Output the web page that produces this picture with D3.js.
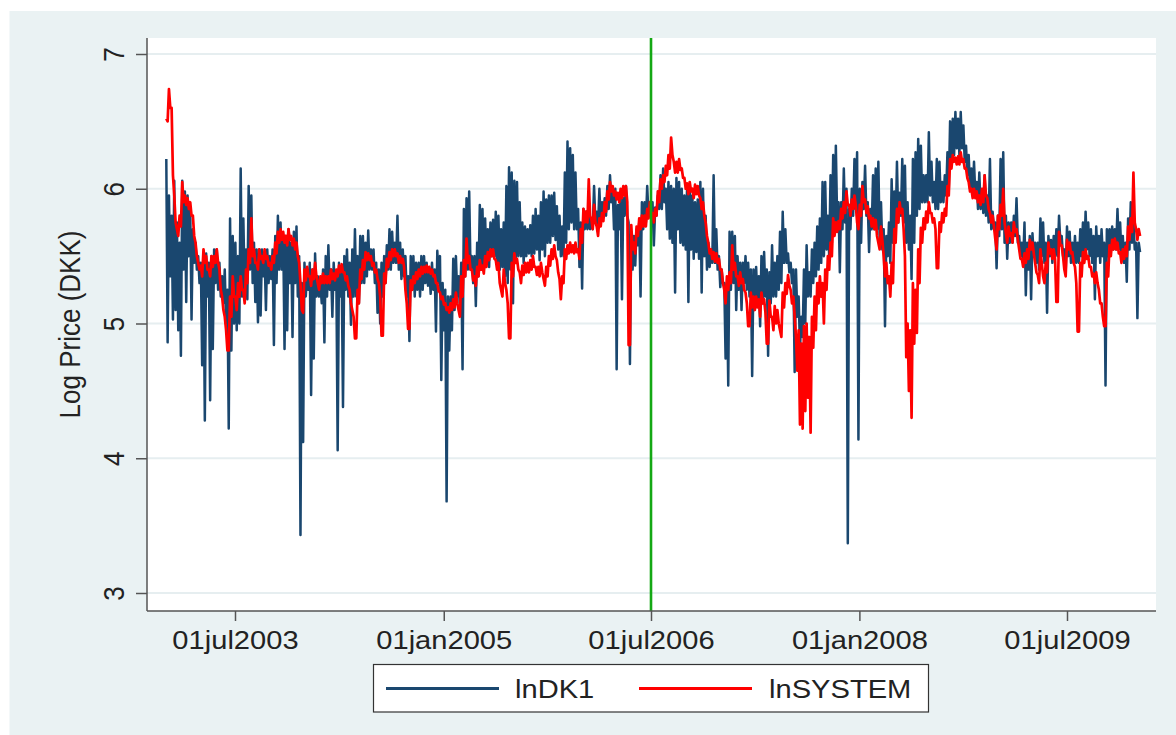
<!DOCTYPE html>
<html>
<head>
<meta charset="utf-8">
<script src="https://cdn.jsdelivr.net/npm/d3@7"></script>
<style>
  html, body { margin: 0; padding: 0; background: #ffffff; }
  svg { display: block; font-family: "Liberation Sans", Arial, sans-serif; }
</style>
</head>
<body>
<svg id="chart" width="1176" height="735"></svg>
<script>
// Weekly observations starting 1 Jan 2003 (one high and one low per week).
const seriesStart = "2003-01-01";
const stepDays = 7;

// lnDK1: weekly high and low of the daily log price.
const dk1High = [
  6.22,5.95,5.8,6.06,5.75,5.6,6.06,5.98,5.95,5.85,
  5.7,5.6,5.5,5.45,5.5,5.52,5.45,5.5,5.55,5.55,
  5.45,5.35,5.4,5.25,5.78,5.65,5.6,5.5,6.15,5.78,
  5.55,6.02,5.95,5.6,5.55,5.55,5.55,5.5,5.55,5.5,
  5.55,5.65,5.8,5.75,5.65,5.65,5.7,5.6,5.68,5.72,
  5.5,5.3,5.45,5.4,5.45,5.4,5.52,5.35,5.3,5.4,
  5.5,5.58,5.4,5.45,5.35,5.45,5.4,5.5,5.55,5.45,
  5.55,5.7,5.5,5.65,5.65,5.6,5.69,5.55,5.55,5.45,
  5.4,5.45,5.5,5.58,5.7,5.68,5.6,5.8,5.6,5.55,
  5.5,5.35,5.5,5.5,5.45,5.45,5.5,5.5,5.45,5.4,
  5.45,5.4,5.54,5.5,5.3,5.25,5.2,5.2,5.48,5.5,
  5.35,5.45,5.85,5.93,5.98,5.5,5.5,5.6,5.88,5.85,
  5.78,5.7,5.75,5.77,5.83,5.8,5.7,5.75,6.02,6.16,
  6.12,6.06,6.05,5.9,5.75,5.72,5.7,5.73,5.8,5.85,
  5.8,5.9,5.98,5.92,5.95,5.95,5.97,5.87,5.8,5.72,
  6.12,6.35,6.3,6.25,6.12,5.85,5.75,5.85,5.83,5.8,
  5.78,6.02,5.83,6.0,5.9,5.93,6.02,6.1,6.0,6.0,
  5.88,5.95,5.93,6.02,5.75,5.68,5.65,5.7,5.75,5.9,
  5.9,6.02,5.9,5.9,5.86,5.95,6.1,6.15,6.0,6.05,
  6.02,6.0,6.08,6.05,6.0,5.95,6.0,6.03,5.95,5.9,
  5.92,6.05,6.0,5.8,5.6,5.55,6.1,5.7,5.5,5.4,
  5.3,5.3,5.68,5.68,5.65,5.5,5.45,5.45,5.5,5.45,
  5.4,5.4,5.42,5.35,5.5,5.53,5.4,5.38,5.58,5.45,
  5.5,5.68,5.83,5.7,5.52,5.45,5.4,5.4,5.2,5.05,
  5.4,5.58,5.38,5.55,5.6,5.72,5.78,6.05,6.05,5.8,
  6.1,6.25,6.32,5.9,5.9,6.15,6.0,5.85,6.0,6.22,
  6.27,6.0,6.05,6.17,5.9,5.85,6.1,6.15,6.2,5.9,
  5.7,5.65,5.75,6.07,5.98,6.2,5.97,6.22,6.17,5.9,
  5.8,6.22,6.27,6.37,6.32,6.1,6.1,6.42,6.2,6.05,
  6.22,6.2,6.05,6.1,6.27,6.5,6.52,6.57,6.52,6.57,
  6.47,6.32,6.25,6.15,6.2,6.05,6.12,5.97,6.1,5.95,
  6.22,5.83,5.75,5.8,6.22,6.27,5.8,5.75,5.75,5.8,
  5.93,5.65,5.6,5.75,5.6,5.65,5.67,5.6,5.6,5.78,
  5.75,5.6,5.65,5.62,5.65,5.7,5.8,5.65,5.55,5.72,
  5.68,5.6,5.65,5.6,5.7,5.75,5.83,5.75,5.7,5.65,
  5.72,5.65,5.7,5.6,5.7,5.7,5.72,5.7,5.85,5.75,
  5.65,5.6,5.78,5.9,5.75,5.6,5.6
];
const dk1Low = [
  4.86,5.35,5.03,5.1,4.95,4.76,5.4,5.16,5.5,5.03,
  5.45,5.4,5.3,4.69,4.28,5.2,4.43,4.81,5.3,5.25,
  5.2,5.15,5.0,4.22,4.8,5.0,4.95,5.0,5.2,5.25,
  5.18,5.4,5.3,5.16,5.01,5.06,5.35,5.1,5.3,5.33,
  4.84,5.3,5.4,5.4,4.81,4.95,5.3,4.9,5.3,5.2,
  3.43,4.12,5.2,5.25,4.47,4.74,5.2,5.2,5.15,4.86,
  5.2,5.25,5.05,5.25,4.06,5.2,4.38,5.25,5.2,4.99,
  5.2,5.2,5.15,5.3,5.3,5.35,5.4,5.4,5.3,5.08,
  5.0,5.2,5.3,5.4,5.4,5.45,5.45,5.4,5.33,5.35,
  5.2,4.87,5.25,5.2,5.25,5.2,5.25,5.3,5.28,5.22,
  5.25,4.94,5.3,4.58,4.95,3.68,4.8,4.95,5.1,5.2,
  5.1,4.66,5.35,5.4,5.4,5.3,5.13,5.35,5.4,5.4,
  5.45,5.42,5.5,5.5,5.45,5.4,5.42,5.35,5.3,5.4,
  5.15,5.45,5.5,5.5,5.45,5.5,5.52,5.5,5.52,5.55,
  5.47,5.55,5.5,5.6,5.6,5.65,5.62,5.55,5.5,5.5,
  5.6,5.7,5.75,5.7,5.7,5.42,5.26,5.7,5.7,5.7,
  5.7,5.75,5.72,5.75,5.8,5.8,5.85,5.9,5.7,4.66,
  5.7,5.18,5.8,5.8,4.7,5.4,5.43,5.58,5.2,5.7,
  5.75,5.8,5.78,5.58,5.8,5.85,5.85,5.9,5.7,5.63,
  5.6,5.23,5.7,5.6,5.58,5.55,5.16,5.55,5.48,5.53,
  5.48,5.23,5.5,5.4,5.42,5.45,5.45,5.4,5.27,5.3,
  4.74,4.54,5.25,5.3,5.1,5.25,5.1,5.3,5.25,5.2,
  4.61,5.2,5.15,4.98,5.15,5.2,4.76,5.15,5.2,5.2,
  5.25,5.3,5.45,5.45,5.38,5.3,4.64,5.05,4.81,4.9,
  5.0,5.2,5.2,5.3,5.35,5.4,5.45,5.5,5.55,5.5,
  5.6,5.7,5.75,5.38,5.7,5.75,3.37,5.7,5.8,5.85,
  4.14,5.6,5.85,5.8,5.53,5.7,5.7,5.7,5.6,5.55,
  4.98,5.5,5.45,5.6,5.7,5.75,5.8,5.75,5.6,5.55,
  5.33,5.6,5.8,5.85,5.9,5.9,5.9,5.95,5.9,5.85,
  5.85,5.9,5.9,5.95,6.0,6.2,6.25,6.3,6.25,6.3,
  6.2,6.1,6.0,5.95,5.95,5.85,5.85,5.82,5.8,5.75,
  5.7,5.7,5.41,5.65,5.7,5.6,5.48,5.6,5.6,5.65,
  5.6,5.5,5.45,5.21,5.4,5.18,5.5,5.45,5.4,5.5,
  5.45,5.08,5.5,5.45,5.5,5.5,5.6,5.5,5.38,5.5,
  5.45,5.45,5.45,5.45,5.5,5.5,5.55,5.5,5.45,5.18,
  5.5,5.45,5.5,4.54,5.5,5.55,5.55,5.55,5.55,5.5,
  5.45,5.31,5.55,5.6,5.55,5.04,5.53
];

// lnSYSTEM: weekly high and low of the daily log system price.
const systemHigh = [
  6.52,6.74,6.6,5.95,5.7,5.8,6.05,5.95,5.93,5.9,
  5.8,5.6,5.45,5.43,5.55,5.5,5.4,5.5,5.5,5.55,
  5.4,5.2,5.05,4.8,5.2,5.35,5.2,5.3,5.35,5.25,
  5.4,5.55,5.78,5.55,5.45,5.55,5.5,5.55,5.5,5.45,
  5.5,5.6,5.68,5.7,5.68,5.65,5.7,5.65,5.63,5.6,
  5.45,5.1,5.4,5.42,5.35,5.4,5.45,5.3,5.35,5.37,
  5.35,5.35,5.4,5.37,5.4,5.43,5.44,5.38,5.35,5.25,
  5.1,4.89,5.25,5.4,5.47,5.53,5.52,5.5,5.45,5.4,
  5.3,4.91,5.37,5.48,5.53,5.55,5.55,5.52,5.5,5.48,
  5.25,4.96,5.32,5.35,5.38,5.4,5.42,5.42,5.43,5.42,
  5.4,5.36,5.3,5.23,5.2,5.15,5.12,5.15,5.18,5.23,
  5.1,5.35,5.47,5.63,5.5,5.4,5.35,5.42,5.47,5.43,
  5.5,5.53,5.55,5.55,5.47,5.45,5.25,5.4,5.25,4.89,
  5.45,5.52,5.48,5.38,5.43,5.45,5.45,5.47,5.5,5.42,
  5.42,5.45,5.33,5.42,5.5,5.55,5.58,5.47,5.33,5.35,
  5.55,5.58,5.6,5.58,5.6,5.55,5.7,5.85,5.83,6.07,
  5.77,5.88,5.72,5.78,5.82,5.9,5.98,6.05,6.02,5.98,
  5.97,6.0,6.02,6.02,4.84,5.73,5.6,5.72,5.78,5.8,
  5.8,5.85,5.9,5.82,5.85,5.98,6.07,6.1,6.17,6.25,
  6.38,6.2,6.2,6.22,6.15,6.08,6.04,6.05,6.0,6.03,
  6.02,5.93,5.9,5.75,5.6,5.55,5.53,5.52,5.48,5.4,
  5.25,5.35,5.38,5.58,5.45,5.35,5.38,5.33,5.23,4.98,
  5.23,5.2,5.2,5.18,5.23,5.18,4.85,5.17,5.05,5.13,
  5.1,4.95,5.23,5.3,5.36,5.25,5.2,4.9,4.95,4.85,
  4.98,5.0,4.9,5.05,5.2,5.3,5.35,5.3,5.4,5.5,
  5.6,5.78,5.75,5.76,5.85,5.9,5.98,5.88,5.92,5.95,
  5.75,5.88,6.02,5.92,5.87,5.8,5.78,5.77,5.6,5.72,
  5.5,5.45,5.35,5.45,5.7,5.85,5.9,5.85,5.5,5.0,
  4.95,5.3,5.25,5.55,5.71,5.78,5.83,5.9,5.82,5.78,
  5.41,5.75,5.82,5.85,6.02,6.22,6.25,6.23,6.24,6.27,
  6.22,6.15,6.05,6.0,6.0,5.98,5.95,6.0,6.1,5.93,
  5.82,5.8,5.63,5.8,5.88,6.0,5.67,5.72,5.67,5.75,
  5.7,5.55,5.48,5.52,5.55,5.62,5.6,5.45,5.36,5.55,
  5.35,5.45,5.6,5.55,5.55,5.16,5.68,5.58,5.4,5.62,
  5.6,5.53,5.42,4.94,5.45,5.53,5.55,5.5,5.42,5.37,
  5.38,5.25,5.15,4.98,5.45,5.58,5.62,5.63,5.6,5.53,
  5.55,5.57,5.72,5.78,6.12,5.7,5.7
];
const systemLow = [
  6.5,6.6,6.1,5.75,5.65,5.72,5.9,5.88,5.85,5.8,
  5.65,5.5,5.4,5.35,5.45,5.4,5.35,5.42,5.45,5.45,
  5.25,5.1,4.95,4.8,5.05,5.2,5.1,5.2,5.25,5.15,
  5.3,5.45,5.5,5.45,5.4,5.48,5.45,5.48,5.43,5.4,
  5.45,5.52,5.6,5.62,5.6,5.58,5.62,5.58,5.55,5.5,
  5.3,5.08,5.32,5.35,5.28,5.33,5.35,5.25,5.3,5.3,
  5.3,5.3,5.33,5.32,5.35,5.38,5.38,5.32,5.28,5.15,
  5.05,4.89,5.15,5.33,5.4,5.47,5.47,5.43,5.38,5.33,
  5.2,4.91,5.3,5.42,5.47,5.5,5.5,5.45,5.45,5.42,
  5.15,4.96,5.25,5.3,5.33,5.35,5.37,5.38,5.38,5.37,
  5.35,5.3,5.24,5.18,5.14,5.1,5.08,5.1,5.12,5.15,
  5.05,5.2,5.35,5.45,5.4,5.32,5.28,5.35,5.4,5.37,
  5.42,5.47,5.5,5.48,5.4,5.3,5.2,5.3,5.15,4.89,
  5.35,5.45,5.4,5.3,5.36,5.38,5.38,5.4,5.42,5.36,
  5.35,5.38,5.28,5.35,5.43,5.48,5.5,5.38,5.18,5.3,
  5.48,5.52,5.53,5.52,5.53,5.48,5.6,5.75,5.75,5.8,
  5.7,5.75,5.65,5.72,5.76,5.83,5.92,5.98,5.95,5.92,
  5.9,5.93,5.95,5.9,4.84,5.55,5.52,5.65,5.7,5.72,
  5.72,5.78,5.82,5.75,5.8,5.9,6.0,6.05,6.1,6.15,
  6.25,6.12,6.12,6.14,6.08,6.0,5.96,5.98,5.93,5.96,
  5.95,5.85,5.8,5.65,5.52,5.48,5.46,5.45,5.4,5.3,
  5.15,5.25,5.3,5.4,5.35,5.28,5.3,5.25,5.15,4.98,
  5.12,5.1,5.12,5.05,5.15,5.08,4.85,5.05,4.95,5.0,
  5.0,4.9,5.12,5.22,5.28,5.15,5.05,4.65,4.25,4.22,
  4.35,4.45,4.19,4.82,4.95,5.15,5.2,5.0,5.25,5.4,
  5.5,5.65,5.68,5.7,5.78,5.82,5.88,5.8,5.85,5.88,
  5.7,5.8,5.9,5.82,5.78,5.72,5.7,5.65,5.55,5.62,
  5.35,5.3,5.2,5.3,5.6,5.75,5.82,5.7,4.75,4.5,
  4.3,4.85,4.93,5.3,5.6,5.7,5.75,5.82,5.75,5.7,
  5.41,5.68,5.75,5.8,5.95,6.15,6.2,6.18,6.18,6.2,
  6.15,6.08,5.98,5.93,5.93,5.9,5.88,5.9,5.95,5.85,
  5.75,5.72,5.55,5.7,5.8,5.75,5.6,5.65,5.6,5.68,
  5.62,5.48,5.42,5.45,5.48,5.55,5.52,5.38,5.3,5.45,
  5.3,5.38,5.52,5.48,5.48,5.16,5.58,5.5,5.35,5.55,
  5.52,5.45,5.3,4.94,5.35,5.45,5.48,5.42,5.35,5.3,
  5.3,5.15,5.05,4.98,5.35,5.5,5.55,5.55,5.52,5.45,
  5.48,5.5,5.62,5.68,5.75,5.62,5.65
];

const yTicks = [3, 4, 5, 6, 7];
const xTickDates = ["2003-07-01", "2005-01-01", "2006-07-01", "2008-01-01", "2009-07-01"];
const xTickLabels = ["01jul2003", "01jan2005", "01jul2006", "01jan2008", "01jul2009"];
const markerDate = "2006-07-01";
const legendLabels = ["lnDK1", "lnSYSTEM"];
const yTitle = "Log Price (DKK)";

const colors = { dk1: "#1a476f", system: "#ff0000", marker: "#14a814",
                 region: "#eaf2f3", grid: "#e6eef0", axis: "#555555", text: "#222222" };

const parse = d3.utcParse("%Y-%m-%d");
const start = parse(seriesStart);
const dayAt = d => d3.utcHour.offset(start, Math.round(d * 24));

const plot = { left: 147, right: 1156, top: 38, bottom: 611 };
const stretch = 1.12;   // glyphs in this figure are drawn slightly wide
const fontSize = 26;

const x = d3.scaleUtc()
  .domain([parse(xTickDates[0]), parse(xTickDates[4])])
  .range([235, 1067]);
const y = d3.scaleLinear().domain([3, 7]).range([593, 54]);

const svg = d3.select("#chart");

// graph region and plot region
svg.append("rect").attr("x", 9.5).attr("y", 11).attr("width", 1176 - 9.5).attr("height", 735 - 11)
  .attr("fill", colors.region);
svg.append("rect").attr("x", plot.left).attr("y", plot.top)
  .attr("width", plot.right - plot.left).attr("height", plot.bottom - plot.top)
  .attr("fill", "#ffffff");

svg.append("defs").append("clipPath").attr("id", "plotClip")
  .append("rect").attr("x", plot.left).attr("y", plot.top)
  .attr("width", plot.right - plot.left).attr("height", plot.bottom - plot.top);

// horizontal grid
svg.append("g").selectAll("line").data(yTicks).join("line")
  .attr("x1", plot.left).attr("x2", plot.right)
  .attr("y1", d => y(d)).attr("y2", d => y(d))
  .attr("stroke", colors.grid).attr("stroke-width", 2);

const series = svg.append("g").attr("clip-path", "url(#plotClip)");

// each series swings between its weekly high and low
function swingPoints(high, low) {
  const pts = [];
  high.forEach((h, i) => {
    pts.push([dayAt(i * stepDays), h]);
    pts.push([dayAt(i * stepDays + stepDays / 2), low[i]]);
  });
  return pts;
}

const line = d3.line().x(d => x(d[0])).y(d => y(d[1]));

series.append("path").datum(swingPoints(dk1High, dk1Low)).attr("d", line)
  .attr("fill", "none").attr("stroke", colors.dk1).attr("stroke-width", 2.5)
  .attr("stroke-linejoin", "round");
series.append("path").datum(swingPoints(systemHigh, systemLow)).attr("d", line)
  .attr("fill", "none").attr("stroke", colors.system).attr("stroke-width", 2.7)
  .attr("stroke-linejoin", "round");

// vertical marker
series.append("line")
  .attr("x1", x(parse(markerDate))).attr("x2", x(parse(markerDate)))
  .attr("y1", plot.top).attr("y2", plot.bottom)
  .attr("stroke", colors.marker).attr("stroke-width", 2.6);

// axis lines
svg.append("line").attr("x1", plot.left).attr("x2", plot.left)
  .attr("y1", plot.top).attr("y2", plot.bottom)
  .attr("stroke", colors.axis).attr("stroke-width", 1.5);
svg.append("line").attr("x1", plot.left).attr("x2", plot.right)
  .attr("y1", plot.bottom).attr("y2", plot.bottom)
  .attr("stroke", colors.axis).attr("stroke-width", 1.5);

// y axis
const yAxis = svg.append("g").attr("transform", `translate(${plot.left},0)`)
  .call(d3.axisLeft(y).tickValues(yTicks).tickSize(11).tickSizeOuter(0).tickFormat(d3.format("d")));
yAxis.select(".domain").remove();
yAxis.selectAll(".tick line").attr("stroke", colors.axis).attr("stroke-width", 1.5);
yAxis.selectAll(".tick text")
  .attr("x", null).attr("dy", null).attr("text-anchor", "middle")
  .attr("transform", `translate(-23,0) scale(${stretch},1) rotate(-90)`)
  .attr("font-size", fontSize).attr("font-family", "Liberation Sans, Arial, sans-serif")
  .attr("fill", colors.text);

// x axis
const xAxis = svg.append("g").attr("transform", `translate(0,${plot.bottom})`)
  .call(d3.axisBottom(x).tickValues(xTickDates.map(parse)).tickSize(10).tickSizeOuter(0)
    .tickFormat((d, i) => xTickLabels[i]));
xAxis.select(".domain").remove();
xAxis.selectAll(".tick line").attr("stroke", colors.axis).attr("stroke-width", 1.5);
xAxis.selectAll(".tick text")
  .attr("y", null).attr("dy", null).attr("text-anchor", "middle")
  .attr("transform", `translate(0,38) scale(${stretch},1)`)
  .attr("font-size", fontSize).attr("font-family", "Liberation Sans, Arial, sans-serif")
  .attr("fill", colors.text);

// y title
svg.append("text")
  .attr("transform", `translate(80,${(plot.top + plot.bottom) / 2}) scale(${stretch},1) rotate(-90)`)
  .attr("text-anchor", "middle").attr("font-size", fontSize).attr("fill", colors.text)
  .text(yTitle);

// legend
const legend = svg.append("g");
legend.append("rect").attr("x", 373.5).attr("y", 664.5).attr("width", 555).attr("height", 47.5)
  .attr("fill", "#ffffff").attr("stroke", "#333333").attr("stroke-width", 1.2);
const legendItems = [
  { label: legendLabels[0], color: colors.dk1, x0: 386, x1: 499, tx: 515 },
  { label: legendLabels[1], color: colors.system, x0: 639, x1: 752, tx: 769 }
];
legendItems.forEach(it => {
  legend.append("line").attr("x1", it.x0).attr("x2", it.x1).attr("y1", 688.5).attr("y2", 688.5)
    .attr("stroke", it.color).attr("stroke-width", 3);
  legend.append("text").attr("transform", `translate(${it.tx},698) scale(${stretch},1)`)
    .attr("font-size", fontSize).attr("fill", colors.text).text(it.label);
});
</script>
</body>
</html>
